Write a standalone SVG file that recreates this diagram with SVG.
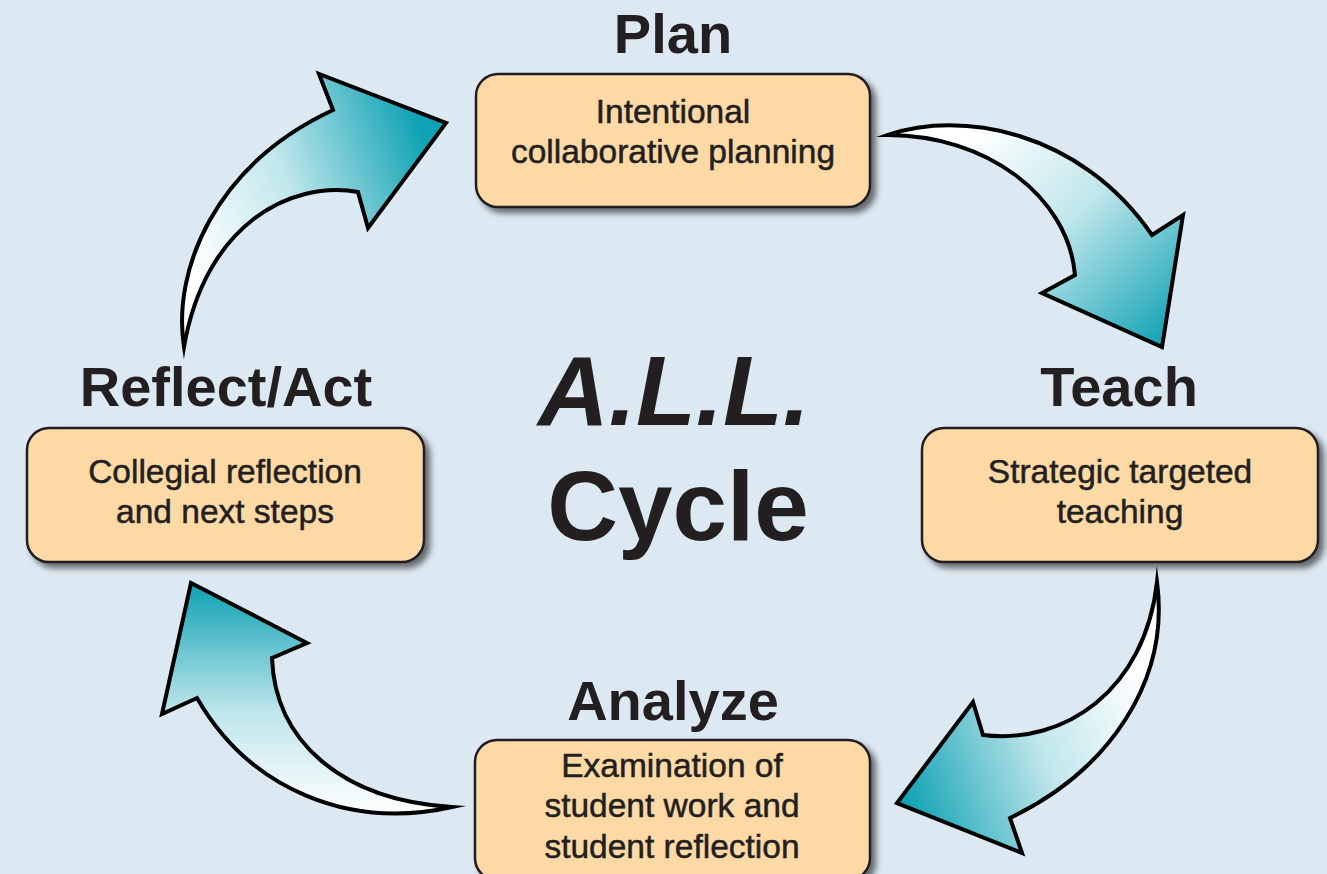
<svg xmlns="http://www.w3.org/2000/svg" width="1327" height="874" viewBox="0 0 1327 874">
  <style>
    .box { fill: #fdd9a6; stroke: #231f20; stroke-width: 2.5; }
    .title { font-family: "Liberation Sans", Arial, sans-serif; font-weight: bold; font-size: 56px; fill: #231f20; text-anchor: middle; }
    .label { font-family: "Liberation Sans", Arial, sans-serif; font-size: 33.5px; fill: #231f20; stroke: #231f20; stroke-width: 0.5; text-anchor: middle; }
    .center { font-family: "Liberation Sans", Arial, sans-serif; font-weight: bold; font-size: 98px; fill: #231f20; text-anchor: middle; }
    .arrow { stroke: #000; stroke-width: 4; stroke-linejoin: miter; stroke-miterlimit: 10; }
  </style>
  <defs>
    <filter id="shadow" x="-10%" y="-10%" width="130%" height="140%">
      <feGaussianBlur in="SourceAlpha" stdDeviation="3"/>
      <feOffset dx="5" dy="5" result="b"/>
      <feComponentTransfer><feFuncA type="linear" slope="0.55"/></feComponentTransfer>
      <feMerge><feMergeNode/><feMergeNode in="SourceGraphic"/></feMerge>
    </filter>
    <linearGradient id="g1" gradientUnits="userSpaceOnUse" x1="195" y1="270" x2="440" y2="180">
      <stop offset="0" stop-color="#ffffff"/>
      <stop offset="0.45" stop-color="#bfe6eb"/>
      <stop offset="1" stop-color="#0fa2b4"/>
    </linearGradient>
    <linearGradient id="g2" gradientUnits="userSpaceOnUse" x1="975" y1="135" x2="1170" y2="340">
      <stop offset="0" stop-color="#ffffff"/>
      <stop offset="0.45" stop-color="#bfe6eb"/>
      <stop offset="1" stop-color="#0fa2b4"/>
    </linearGradient>
    <linearGradient id="g3" gradientUnits="userSpaceOnUse" x1="1150" y1="700" x2="900" y2="790">
      <stop offset="0" stop-color="#ffffff"/>
      <stop offset="0.45" stop-color="#bfe6eb"/>
      <stop offset="1" stop-color="#0fa2b4"/>
    </linearGradient>
    <linearGradient id="g4" gradientUnits="userSpaceOnUse" x1="0" y1="815" x2="0" y2="585">
      <stop offset="0" stop-color="#ffffff"/>
      <stop offset="0.45" stop-color="#bfe6eb"/>
      <stop offset="1" stop-color="#0fa2b4"/>
    </linearGradient>
  </defs>
  <rect x="0" y="0" width="1327" height="874" fill="#dde9f2"/>

  <g id="connectors">
    <path class="arrow" fill="url(#g1)" d="M184,347 C172,270 215,165 333,110 L319,74 L446,123 L368,228 L358,192 C290,180 205,225 184,347 Z"/>
    <path class="arrow" fill="url(#g2)" d="M888,135 C960,110 1080,130 1152,235 L1183,215 L1162,347 L1042,293 L1075,275 C1068,195 985,135 888,135 Z"/>
    <path class="arrow" fill="url(#g3)" d="M1157,582 C1170,680 1110,770 1010,818 L1022,853 L897,803 L973,702 L983,735 C1065,745 1145,690 1157,582 Z"/>
    <path class="arrow" fill="url(#g4)" d="M452,807 C350,830 250,790 197,698 L162,714 L191,583 L307,643 L272,658 C275,740 340,800 452,807 Z"/>
  </g>

  <g id="plan">
    <text class="title" x="673" y="53">Plan</text>
    <rect class="box" filter="url(#shadow)" x="476" y="74" width="394" height="133" rx="22"/>
    <text class="label" x="673" y="123">Intentional</text>
    <text class="label" x="673" y="163">collaborative planning</text>
  </g>

  <g id="teach">
    <text class="title" x="1119" y="406">Teach</text>
    <rect class="box" filter="url(#shadow)" x="922" y="428" width="396" height="134" rx="22"/>
    <text class="label" x="1120" y="483">Strategic targeted</text>
    <text class="label" x="1120" y="523">teaching</text>
  </g>

  <g id="analyze">
    <text class="title" x="673" y="720">Analyze</text>
    <rect class="box" filter="url(#shadow)" x="475" y="740" width="395" height="140" rx="22"/>
    <text class="label" x="672" y="777">Examination of</text>
    <text class="label" x="672" y="817">student work and</text>
    <text class="label" x="672" y="858">student reflection</text>
  </g>

  <g id="reflect">
    <text class="title" x="226" y="406">Reflect/Act</text>
    <rect class="box" filter="url(#shadow)" x="27" y="428" width="397" height="134" rx="22"/>
    <text class="label" x="225" y="483">Collegial reflection</text>
    <text class="label" x="225" y="523">and next steps</text>
  </g>

  <g id="center">
    <text class="center" x="674" y="425" font-style="italic">A.L.L.</text>
    <text class="center" x="678" y="540">Cycle</text>
  </g>
</svg>
